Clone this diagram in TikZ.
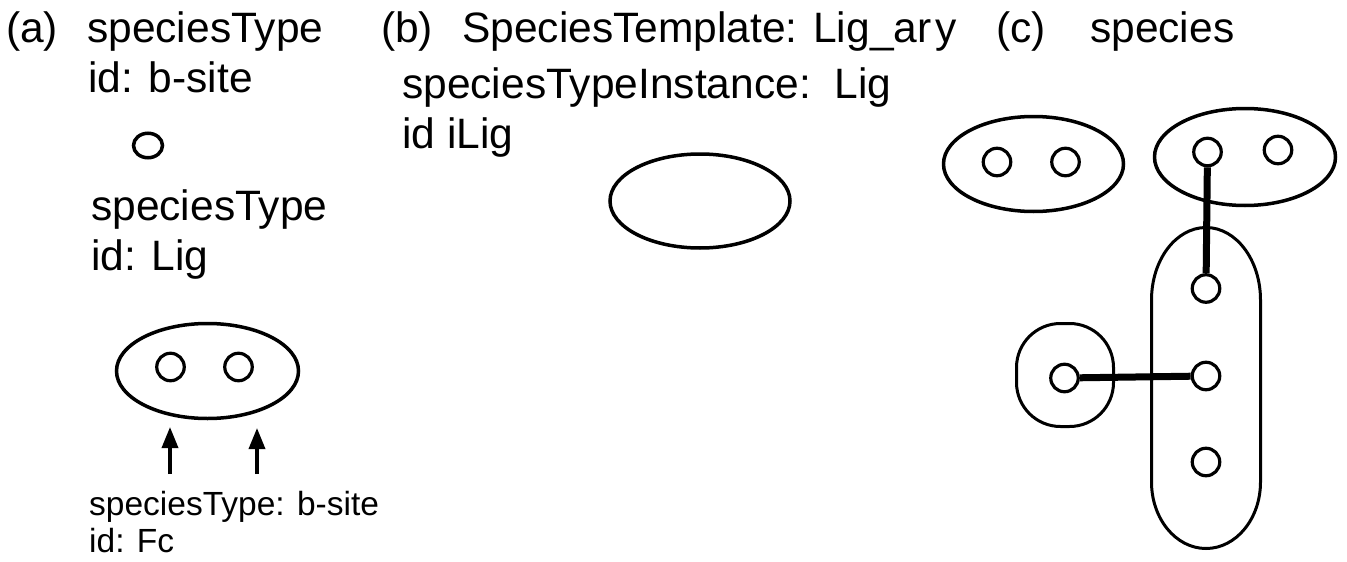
\documentclass[tikz,border=0pt]{standalone}
\usepackage{fontspec}
\setmainfont{Liberation Sans}
\usetikzlibrary{shapes.geometric,arrows.meta}

\begin{document}
\begin{tikzpicture}[x=1pt,y=-1pt,
  lbl/.style={anchor=base west,inner sep=0pt,font=\fontsize{42.5}{50}\selectfont},
  smalllbl/.style={anchor=base west,inner sep=0pt,font=\fontsize{33.5}{37}\selectfont},
  site/.style={circle,draw,line width=3.2pt,minimum size=27.5pt,inner sep=0pt},
  mol/.style={ellipse,draw,line width=3.5pt,inner sep=0pt},
  bond/.style={line width=7pt},
  pointer/.style={line width=3.5pt,-{Triangle[length=21pt,width=16pt]}}]
\useasboundingbox (0,0) rectangle (1347,562);
\fill[white] (0,0) rectangle (1347,562);

% ---------- (a) species types ----------
\node[lbl] (alabel) at (6,42) {(a)};
\node[lbl] (st1) at (87,42) {speciesType};
\node[lbl] (id1) at (88,92) {id: b-site};
\node[ellipse,draw,line width=3.5pt,minimum width=29pt,minimum height=24.5pt,inner sep=0pt] (bsite) at (148,145.5) {};
\node[lbl] (st2) at (91,220) {speciesType};
\node[lbl] (id2) at (91,270) {id: Lig};

\node[mol,minimum width=182pt,minimum height=95pt] (lig) at (207.5,371) {};
\node[site] (fc1) at (170.5,367) {};
\node[site] (fc2) at (238.5,367) {};

\coordinate (t1) at (170,474);
\coordinate (h1) at (170,427);
\coordinate (t2) at (257,474);
\coordinate (h2) at (257,428);
\draw[pointer] (t1) -- (h1);
\draw[pointer] (t2) -- (h2);

\node[smalllbl] (st3) at (89,515) {speciesType: b-site};
\node[smalllbl] (id3) at (89,552) {id: Fc};

% ---------- (b) species template ----------
\node[lbl] (blabel) at (381,42) {(b)};
\node[lbl] (tmpl) at (462,42) {SpeciesTemplate: Lig\_ar\kern4pt y};
\node[lbl] (sti) at (402,98) {speciesTypeInstance:\ \ Lig};
\node[lbl] (ilig) at (402,148) {id iLig};
\node[mol,minimum width=180pt,minimum height=94pt] (iligshape) at (700,201) {};

% ---------- (c) species ----------
\node[lbl] (clabel) at (996,42) {(c)};
\node[lbl] (spc) at (1090,42) {species};

% free ligand
\node[mol,minimum width=180pt,minimum height=95pt] (m1) at (1033.5,164) {};
\node[site] (m1a) at (997,162) {};
\node[site] (m1b) at (1065.5,162) {};

% bound ligand
\node[mol,minimum width=181pt,minimum height=97pt] (m2) at (1245,157) {};
\node[site] (m2a) at (1207.5,152) {};
\node[site] (m2b) at (1278,150) {};

% elongated receptor with three sites
\draw[line width=3pt] (1151.5,300) -- (1151.5,482)
  arc[start angle=180,end angle=360,x radius=54.5pt,y radius=66.5pt]
  -- (1260.5,300)
  arc[start angle=0,end angle=180,x radius=54.5pt,y radius=72.5pt] -- cycle;
\node[site] (r1) at (1206,288.5) {};
\node[site] (r2) at (1206,376) {};
\node[site] (r3) at (1206,462) {};

% small single-site partner
\node[rectangle,draw,line width=3pt,rounded corners=44pt,minimum width=97pt,minimum height=103pt,inner sep=0pt] (m3) at (1065,375) {};
\node[site] (m3a) at (1064.5,378) {};

% bonds
\draw[bond] (m2a) -- (r1);
\draw[bond] (m3a) -- (r2);
\end{tikzpicture}
\end{document}
